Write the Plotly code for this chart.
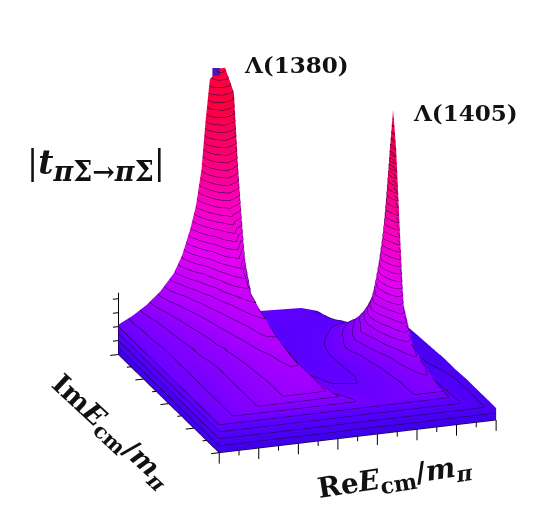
import plotly.graph_objects as go

RE = [0,.05,.1,.15,.2,.23,.26,.28,.3,.315,.33,.36,.385,.41,.44,.5,.58,.66,.72,.76,.79,.81,.825,.85,.88,.94,1]
IM = [0,.15,.3,.4,.47,.5,.53,.6,.7,.8,.88,.94,.98,1]
T = [
[31,35,39,43,47,49,51,52,52,53,54,51,49,46,41,35,31,32,36,40,38,35,29,25,20,15,12],
[31,35,39,43,47,49,51,52,53,54,55,55,50,44,33,30,29,31,37,42,44,40,30,24,19,15,12],
[31,35,39,43,47,50,52,54,55,57,58,58,50,42,30,27,27,32,40,50,56,50,28,23,18,15,12],
[31,35,39,43,48,51,54,56,58,60,61,62,52,44,28,25,27,34,48,66,88,84,32,22,17,14,11],
[31,35,39,44,49,52,55,58,60,63,65,66,54,45,27,24,27,37,54,88,155,232,36,21,16,13,11],
[31,35,40,44,49,53,56,59,61,64,66,68,55,46,26,24,27,38,57,95,182,268,42,21,16,13,11],
[31,35,40,45,50,53,57,60,62,65,67,70,57,47,26,24,27,37,54,88,155,228,36,20,15,13,11],
[30,35,40,45,51,55,59,62,65,68,71,75,60,49,25,23,26,34,46,64,85,82,27,18,14,12,10],
[30,35,41,47,53,58,63,67,71,75,79,84,66,52,24,22,24,29,36,43,45,40,18,15,13,11,9],
[30,36,42,49,57,63,70,76,85,92,98,108,84,62,24,22,23,25,27,27,25,22,12,11,10,9,8],
[30,36,43,52,62,71,82,92,105,118,132,150,125,98,26,24,24,24,23,21,17,14,9,8,8,7,7],
[30,37,45,56,70,85,105,125,150,175,198,225,210,180,30,26,26,25,22,16,11,7,5,6,6,6,6],
[30,37,46,58,76,94,122,145,178,222,255,275,270,250,32,27,26,25,20,12,6,3,3,5,6,6,6],
[30,37,46,58,75,92,118,140,176,225,265,275,275,255,32,27,26,25,20,12,6,3,3,6,7,7,6],
]
RE_LONG = [0,1/7,2/7,3/7,4/7,5/7,6/7,1]
RE_SHORT = [1/14,3/14,5/14,7/14,9/14,11/14,13/14]
IM_LONG = [0,.25,.5,.75,1]
IM_SHORT = [.125,.375,.625,.875]
Z_TICKS = [0,14,28,42,56]
Z_TOP = 62
CAP = (.34, .965, 276)

# vertical skirt on the two visible sides
xs = [-0.0008] + RE
ys = [-0.0008] + IM
zs = [[0]*len(xs)] + [[0] + row for row in T]

CS = [[0,'#3c00e8'],[.09,'#5c00ff'],[.115,'#7000ff'],[.22,'#b000ff'],[.36,'#e400f4'],[.53,'#fa00c4'],[.71,'#fa0070'],[.89,'#f80040'],[1,'#ff0040']]
surf = go.Surface(x=xs, y=ys, z=zs, colorscale=CS, cmin=0, cmax=275, showscale=False,
    contours=dict(z=dict(show=True, start=0, end=275, size=7, color='#1c0040', width=2)),
    lighting=dict(ambient=1, diffuse=.12, specular=0, roughness=1, fresnel=0),
    lightposition=dict(x=3000, y=-3000, z=2000), hoverinfo='skip')

ax_x, ax_y, ax_z = [], [], []
def seg(a, b):
    ax_x.extend([a[0], b[0], None]); ax_y.extend([a[1], b[1], None]); ax_z.extend([a[2], b[2], None])
seg((0,0,0),(1,0,0)); seg((0,0,0),(0,1,0)); seg((0,1,0),(0,1,Z_TOP))
for t in RE_LONG: seg((t,0,0),(t,0,-11))
for t in RE_SHORT: seg((t,0,0),(t,0,-5))
for t in IM_LONG: seg((0,t,0),(-.03,t,0))
for t in IM_SHORT: seg((0,t,0),(-.015,t,0))
for t in Z_TICKS: seg((0,1,t),(-.02,1,t))
axes = go.Scatter3d(x=ax_x, y=ax_y, z=ax_z, mode='lines', line=dict(color='black', width=2), hoverinfo='skip')
cap = go.Scatter3d(x=[CAP[0]], y=[CAP[1]], z=[CAP[2]], mode='markers',
    marker=dict(size=4, color='#4a18b0', symbol='square'), hoverinfo='skip')

hidden = dict(visible=False)
fig = go.Figure([surf, axes, cap])
fig.update_layout(width=538, height=529, margin=dict(l=0,r=0,t=0,b=0), paper_bgcolor='white', showlegend=False,
  scene=dict(
    xaxis=dict(range=[-.1,1.1], **hidden), yaxis=dict(range=[-.1,1.1], **hidden), zaxis=dict(range=[-30,300], **hidden),
    aspectmode='manual', aspectratio=dict(x=1.33,y=1.39,z=1.322),
    camera=dict(projection=dict(type='orthographic'), up=dict(x=0,y=0,z=1),
        center=dict(x=-.1415,y=.0337,z=-.0423),
        eye=dict(x=-.1415-.62, y=.0337-1.78, z=-.0423+.68)),
  ))
F = 'DejaVu Serif'
def label(text, x, y, size, angle=0):
    fig.add_annotation(text=text, x=x/538, y=1-y/529, xref='paper', yref='paper', showarrow=False, textangle=angle,
        font=dict(family=F, size=size, color='#111111'), xanchor='center', yanchor='middle')
def sub(t, s):
    return '<sub><span style="font-size:%dpx"><b>%s</b></span></sub>' % (s, t)
label('<b>Λ(1380)</b>', 297, 64, 23)
label('<b>Λ(1405)</b>', 465, 112, 23)
label('|<b><i>t</i></b>'+sub('<i>π</i>Σ→<i>π</i>Σ', 27)+'|', 96, 165, 33)
label('<b>Im<i>E</i></b>'+sub('cm', 21)+'<b>/<i>m</i></b>'+sub('<i>π</i>', 21), 110, 432, 27, 43)
label('<b>Re<i>E</i></b>'+sub('cm', 22)+'<b>/<i>m</i></b>'+sub('<i>π</i>', 22), 395, 478, 28, -9)
fig.write_html("out.html", config=dict(displayModeBar=False), post_script="document.body.style.margin='0';")
